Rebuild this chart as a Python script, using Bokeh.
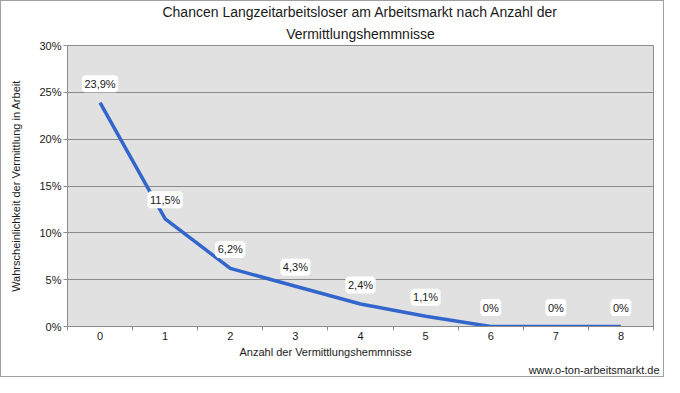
from bokeh.plotting import figure
from bokeh.models import (ColumnDataSource, LabelSet, Title, FixedTicker,
                          PrintfTickFormatter, Range1d)
from bokeh.core.properties import value
from bokeh.embed import file_html
from bokeh.resources import INLINE

# --- data ---
categories = [0, 1, 2, 3, 4, 5, 6, 7, 8]
values = [23.9, 11.5, 6.2, 4.3, 2.4, 1.1, 0.0, 0.0, 0.0]
y_ticks = [0, 5, 10, 15, 20, 25, 30]
title_line1 = "Chancen Langzeitarbeitsloser am Arbeitsmarkt nach Anzahl der"
title_line2 = "Vermittlungshemmnisse"
x_label = "Anzahl der Vermittlungshemmnisse"
y_label = "Wahrscheinlichkeit der Vermittlung in Arbeit"
source_text = "www.o-ton-arbeitsmarkt.de"

labels = [("0%" if v == 0 else f"{v:.1f}".replace(".", ",") + "%") for v in values]
src = ColumnDataSource(dict(x=categories, y=values, lab=labels))

FONT = "Liberation Sans"
TXT = "#1a1a1a"
W, H = 664, 377

p = figure(width=W, height=H, output_backend="svg", toolbar_location=None,
           x_range=Range1d(-0.5, 8.5), y_range=Range1d(0, 30),
           min_border_left=66, min_border_right=12, min_border_top=42,
           min_border_bottom=10)
p.styles = {"border": "1px solid #a0a0a0"}

p.add_layout(Title(text=title_line2, align="center", text_font=FONT,
                   text_font_size="14px", text_font_style="normal",
                   text_color=TXT, standoff=8), "above")
p.add_layout(Title(text=title_line1, align="center", text_font=FONT,
                   text_font_size="14px", text_font_style="normal",
                   text_color=TXT, standoff=0), "above")

p.background_fill_color = "#e1e1e1"
p.border_fill_color = "white"
p.outline_line_color = "#8c8c8c"
p.outline_line_width = 1

p.xgrid.grid_line_color = None
p.ygrid.grid_line_color = "#8a8a8a"
p.ygrid.grid_line_width = 1
p.ygrid.ticker = FixedTicker(ticks=y_ticks)

# y axis
p.yaxis.ticker = FixedTicker(ticks=y_ticks)
p.yaxis.formatter = PrintfTickFormatter(format="%d%%")
p.yaxis.axis_label = y_label
p.yaxis.axis_label_text_font = FONT
p.yaxis.axis_label_text_font_size = "11px"
p.yaxis.axis_label_text_font_style = "normal"
p.yaxis.axis_label_text_color = TXT
p.yaxis.axis_label_standoff = 14
p.yaxis.major_label_text_font = FONT
p.yaxis.major_label_text_font_size = "11px"
p.yaxis.major_label_text_color = TXT
p.yaxis.axis_line_color = "#8c8c8c"
p.yaxis.major_tick_line_color = "#8c8c8c"
p.yaxis.major_tick_out = 4
p.yaxis.major_tick_in = 0
p.yaxis.minor_tick_line_color = None
p.yaxis.major_label_standoff = 2

# x axis
p.xaxis.ticker = FixedTicker(ticks=categories,
                             minor_ticks=[c - 0.5 for c in categories] + [categories[-1] + 0.5])
p.xaxis.major_label_text_font = FONT
p.xaxis.major_label_text_font_size = "11px"
p.xaxis.major_label_text_color = TXT
p.xaxis.axis_line_color = "#8c8c8c"
p.xaxis.major_tick_line_color = None
p.xaxis.major_tick_out = 0
p.xaxis.major_tick_in = 0
p.xaxis.minor_tick_line_color = "#8c8c8c"
p.xaxis.minor_tick_out = 4
p.xaxis.minor_tick_in = 0
p.xaxis.major_label_standoff = 1

# x axis title, placed left of centre like the reference
p.add_layout(Title(text=x_label, align="left", offset=172, text_font=FONT,
                   text_font_size="11px", text_font_style="normal",
                   text_color=TXT, standoff=3), "below")
# source note at the bottom right
p.add_layout(Title(text=source_text, align="right", offset=-6, text_font=FONT,
                   text_font_size="11px", text_font_style="normal",
                   text_color=TXT, standoff=5), "below")

p.line("x", "y", source=src, line_color="#3366cc", line_width=3.5)

ls = LabelSet(x="x", y="y", text="lab", source=src, text_align="center",
              text_baseline="middle", y_offset=19, text_font=value(FONT),
              text_font_size=value("11px"), text_color=TXT,
              background_fill_color="white",
              border_line_color="white", border_line_width=5)
p.add_layout(ls)

open("out.html", "w").write(file_html(p, INLINE))
